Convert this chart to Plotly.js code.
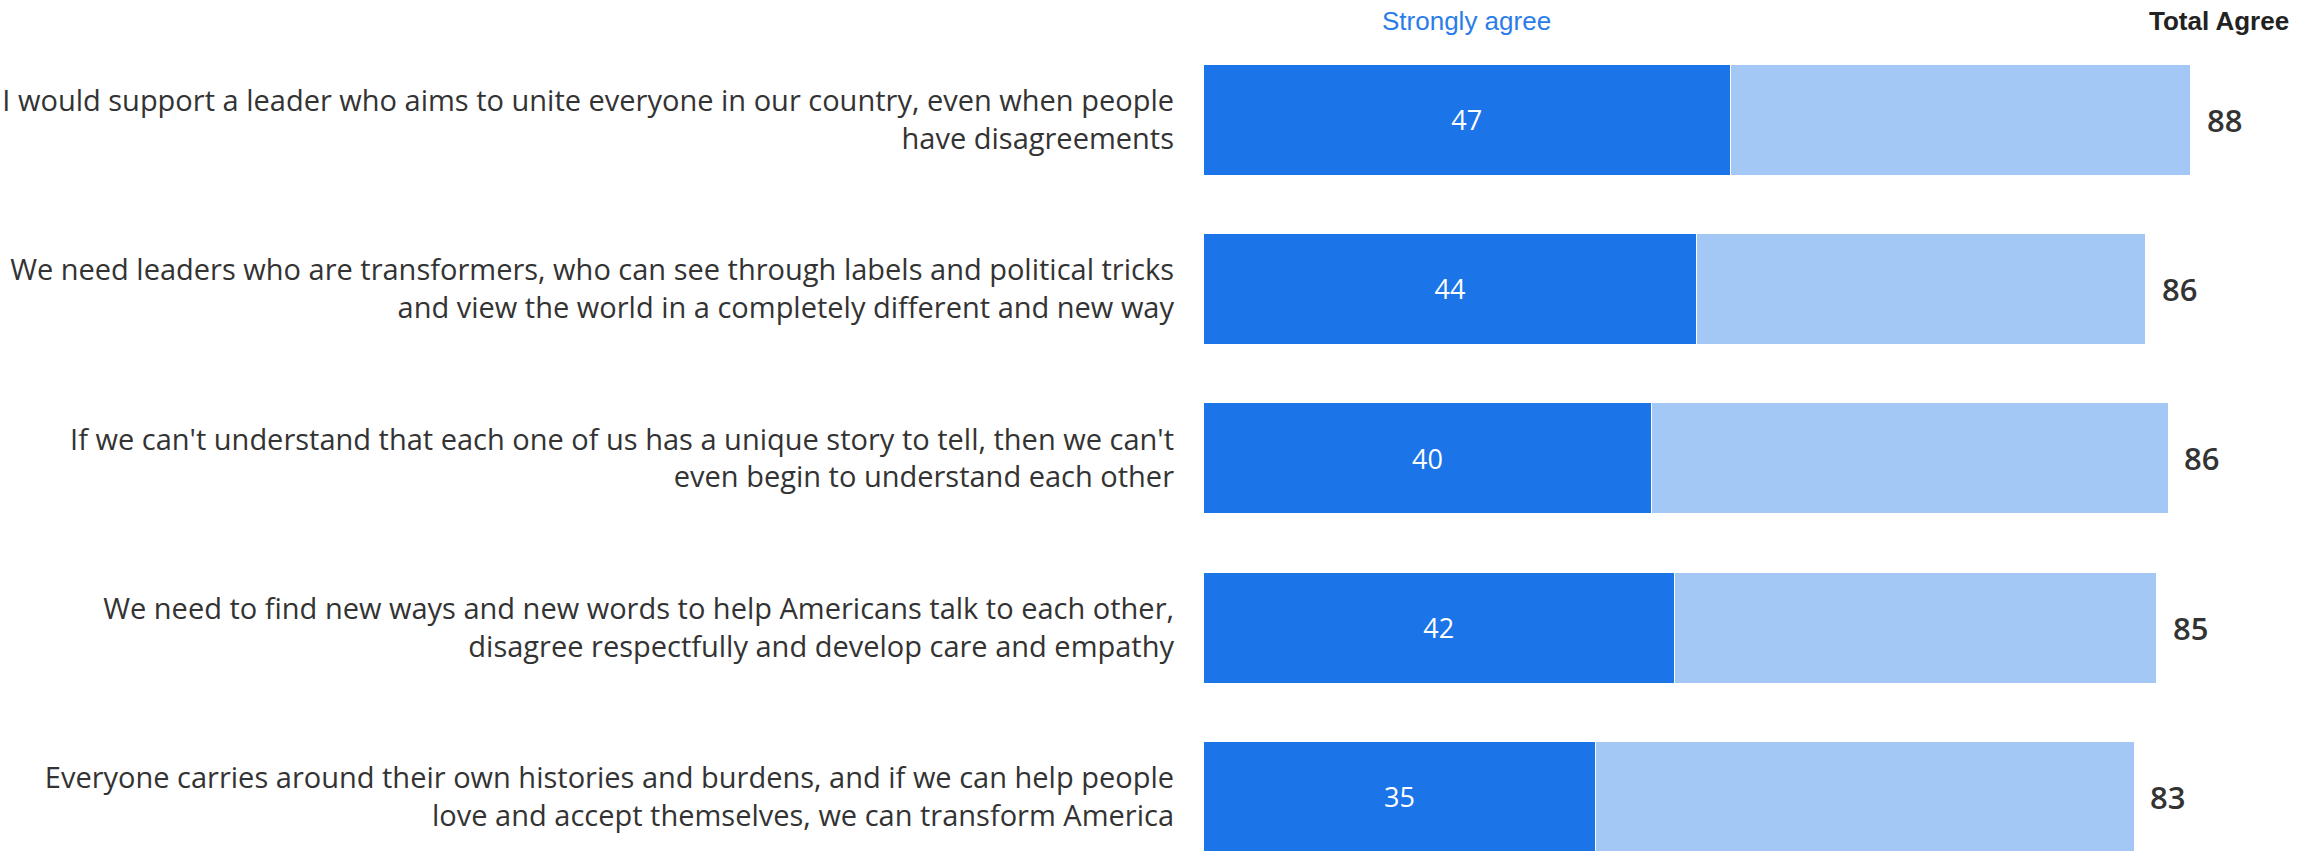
<!DOCTYPE html>
<html>
<head>
<meta charset="utf-8">
<script src="https://cdn.plot.ly/plotly-3.0.1.min.js"></script>
<style>html,body{margin:0;padding:0;background:#fff;}#chart{width:2323px;height:851px;}</style>
</head>
<body>
<div id="chart"></div>
<script>
const categories = [
  "I would support a leader who aims to unite everyone in our country, even when people<br>have disagreements",
  "We need leaders who are transformers, who can see through labels and political tricks<br>and view the world in a completely different and new way",
  "If we can't understand that each one of us has a unique story to tell, then we can't<br>even begin to understand each other",
  "We need to find new ways and new words to help Americans talk to each other,<br>disagree respectfully and develop care and empathy",
  "Everyone carries around their own histories and burdens, and if we can help people<br>love and accept themselves, we can transform America"
];
const stronglyAgree = [47, 44, 40, 42, 35];
const somewhatAgree = [41, 40, 46, 43, 48];
const totalAgree = [88, 86, 86, 85, 83];
const seriesNames = ["Strongly agree", "Somewhat agree"];
const totalHeader = "Total Agree";

const FONT = "Liberation Sans, Arial, sans-serif";
const LABELFONT = "Open Sans, Liberation Sans, sans-serif";
const DARK = "#1b74e8";
const LIGHT = "#a4c8f6";

const traces = [
  {
    type: "bar", orientation: "h", name: seriesNames[0],
    y: categories, x: stronglyAgree,
    marker: {color: DARK, line: {color: "#ffffff", width: 1}},
    text: stronglyAgree.map(String), textposition: "inside", insidetextanchor: "middle",
    textfont: {family: LABELFONT, size: 27, color: "#ffffff"},
    hoverinfo: "skip"
  },
  {
    type: "bar", orientation: "h", name: seriesNames[1],
    y: categories, x: somewhatAgree,
    marker: {color: LIGHT, line: {color: "#ffffff", width: 1}},
    hoverinfo: "skip"
  }
];

const annotations = totalAgree.map((t, i) => ({
  x: stronglyAgree[i] + somewhatAgree[i], y: categories[i], xref: "x", yref: "y",
  text: String(t), showarrow: false, xanchor: "left", xshift: 14,
  font: {family: LABELFONT, size: 31, color: "#333333", weight: 600}
}));
annotations.push({
  x: stronglyAgree[0] / 2, y: 1, xref: "x", yref: "paper", yanchor: "bottom", yshift: -3,
  text: seriesNames[0], showarrow: false, xanchor: "center",
  font: {family: FONT, size: 26, color: "#2a7de9"}
});
annotations.push({
  x: 1, y: 1, xref: "paper", yref: "paper", yanchor: "bottom", yshift: -3, xshift: -32,
  text: "<b>" + totalHeader + "</b>", showarrow: false, xanchor: "right",
  font: {family: FONT, size: 26, color: "#222222"}
});

const layout = {
  width: 2323, height: 851, autosize: false,
  margin: {l: 1203, r: 0, t: 35, b: 0, pad: 0},
  paper_bgcolor: "#ffffff", plot_bgcolor: "#ffffff",
  barmode: "stack", bargap: 0.344, showlegend: false,
  xaxis: {range: [0, 99.8], showgrid: false, zeroline: false, showticklabels: false, showline: false, fixedrange: true},
  yaxis: {
    type: "category", range: [4.32, -0.5], showgrid: false, zeroline: false, showline: false,
    ticks: "", ticklabelstandoff: 28,
    tickfont: {family: LABELFONT, size: 29, color: "#333333"}, fixedrange: true
  },
  annotations: annotations
};

Plotly.newPlot("chart", traces, layout, {displayModeBar: false, staticPlot: true});
</script>
</body>
</html>
